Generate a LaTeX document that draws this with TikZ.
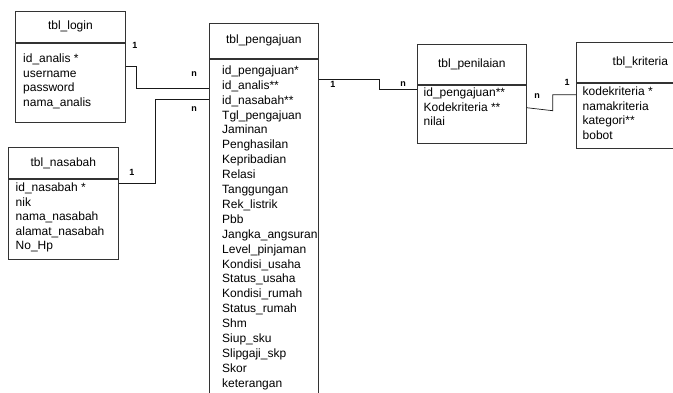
\documentclass[tikz,border=0pt]{standalone}
\usepackage{fontspec}
\setmainfont{Liberation Sans}
\begin{document}
\begin{tikzpicture}[x=1pt,y=-1pt,
  tablebox/.style={draw=black!80, line width=0.7pt, inner sep=0pt, anchor=north west,
    font=\fontsize{12}{14.4}\selectfont},
  attrs/.style={anchor=north west, inner sep=0pt, align=left,
    font=\fontsize{12}{14.4}\selectfont},
  card/.style={inner sep=0pt, font=\bfseries\fontsize{9}{10}\selectfont},
  link/.style={draw=black!90, line width=0.7pt}]
\useasboundingbox (0,0) rectangle (673,392);
\clip (0,0) rectangle (673,392);

% tbl_login
\node[tablebox, minimum width=110pt, minimum height=31pt] (lghead) at (15,11) {tbl\_login};
\node[tablebox, minimum width=110pt, minimum height=79pt] (lgbody) at (lghead.south west) {};
\node[attrs] (lgattr) at ([shift={(8pt,-10pt)}]lgbody.north west)
  {\strut id\_analis *\\
   username\\
   password\\
   nama\_analis};

% tbl_nasabah
\node[tablebox, minimum width=110pt, minimum height=31pt] (nshead) at (8,147) {tbl\_nasabah};
\node[tablebox, minimum width=110pt, minimum height=80pt] (nsbody) at (nshead.south west) {};
\node[attrs] (nsattr) at ([shift={(7.5pt,-3pt)}]nsbody.north west)
  {\strut id\_nasabah *\\
   nik\\
   nama\_nasabah\\
   alamat\_nasabah\\
   No\_Hp};

% tbl_pengajuan (runs past the lower edge)
\node[tablebox, minimum width=109pt, minimum height=35pt] (pghead) at (209,23) {tbl\_pengajuan};
\node[tablebox, minimum width=109pt, minimum height=350pt] (pgbody) at (pghead.south west) {};
\node[attrs, font=\fontsize{12}{14.9}\selectfont] (pgattr) at ([shift={(13pt,-5pt)}]pgbody.north west)
  {\strut id\_pengajuan*\\
   id\_analis**\\
   id\_nasabah**\\
   Tgl\_pengajuan\\
   Jaminan\\
   Penghasilan\\
   Kepribadian\\
   Relasi\\
   Tanggungan\\
   Rek\_listrik\\
   Pbb\\
   Jangka\_angsuran\\
   Level\_pinjaman\\
   Kondisi\_usaha\\
   Status\_usaha\\
   Kondisi\_rumah\\
   Status\_rumah\\
   Shm\\
   Siup\_sku\\
   Slipgaji\_skp\\
   Skor\\
   keterangan};

% tbl_penilaian
\node[tablebox, minimum width=109pt, minimum height=40pt] (pnhead) at (417,44) {tbl\_penilaian};
\node[tablebox, minimum width=109pt, minimum height=58pt] (pnbody) at (pnhead.south west) {};
\node[attrs] (pnattr) at ([shift={(6.5pt,-2pt)}]pnbody.north west)
  {\strut id\_pengajuan**\\
   Kodekriteria **\\
   nilai};

% tbl_kriteria (runs past the right edge)
\node[tablebox, minimum width=128pt, minimum height=40pt] (krhead) at (576,42) {tbl\_kriteria};
\node[tablebox, minimum width=128pt, minimum height=65pt] (krbody) at (krhead.south west) {};
\node[attrs] (krattr) at ([shift={(6.5pt,-3pt)}]krbody.north west)
  {\strut kodekriteria *\\
   namakriteria\\
   kategori**\\
   bobot};

% relations
\draw[link] ([yshift=-23.5pt]lgbody.north east) -- ++(11,0) |- ([yshift=-30pt]pgbody.north west);
\draw[link] ([yshift=-5pt]nsbody.north east) -- ++(37,0) |- ([yshift=-41pt]pgbody.north west);
\draw[link] ([yshift=-21pt]pgbody.north east) -- ++(61,0) |- ([yshift=-5pt]pnbody.north west);
\draw[link] ([yshift=-23pt]pnbody.north east) -- ++(26,3) |- ([yshift=-12pt]krbody.north west);

% cardinalities
\node[card] (c1) at (135,45) {1};
\node[card] (c2) at (194,74) {n};
\node[card] (c3) at (194,109) {n};
\node[card] (c4) at (132,172) {1};
\node[card] (c5) at (333,84) {1};
\node[card] (c6) at (403,84) {n};
\node[card] (c7) at (537,96) {n};
\node[card] (c8) at (567,82) {1};
\end{tikzpicture}
\end{document}
